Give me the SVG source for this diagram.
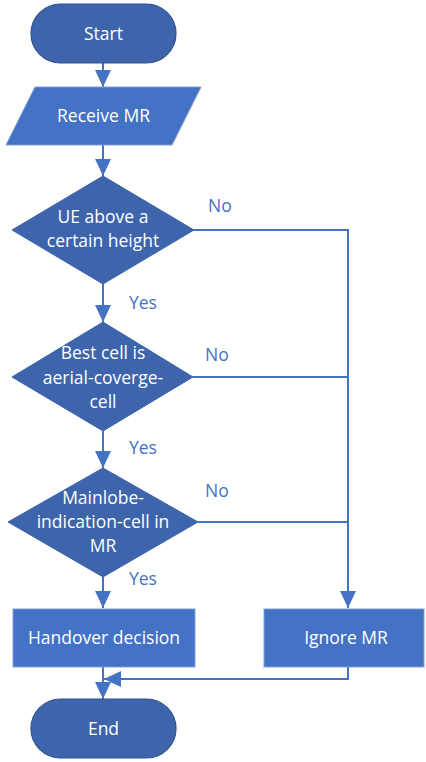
<svg xmlns="http://www.w3.org/2000/svg" width="426" height="762" viewBox="0 0 426 762">
<style>
.term{fill:#3E64AC;stroke:#2F528F;stroke-width:1.2}
.dec{fill:#3E64AC;stroke:#3E64AC;stroke-width:1}
.proc{fill:#4472C4;stroke:#7F9DD8;stroke-width:1}
.t{font-family:"Open Sans","Liberation Sans",sans-serif;font-size:17.5px;fill:#fff;text-anchor:middle}
.lbl{font-family:"Open Sans","Liberation Sans",sans-serif;font-size:17.5px;fill:#4472C4}
.c{fill:none;stroke:#4472C4;stroke-width:2}
</style>
<defs>
<marker id="ah" markerUnits="userSpaceOnUse" viewBox="0 0 17 16" refX="17" refY="8" markerWidth="17" markerHeight="16" orient="auto">
<path d="M0,0 L17,8 L0,16 Z" fill="#4472C4"/>
</marker>
</defs>
<g id="connectors">
<path class="c" d="M103,63 V87" marker-end="url(#ah)"/>
<path class="c" d="M103,145 V176" marker-end="url(#ah)"/>
<path class="c" d="M103,284 V322" marker-end="url(#ah)"/>
<path class="c" d="M103,431 V468" marker-end="url(#ah)"/>
<path class="c" d="M103,577 V608" marker-end="url(#ah)"/>
<path class="c" d="M193,230 H348 V608" marker-end="url(#ah)"/>
<path class="c" d="M193,377 H348"/>
<path class="c" d="M198,522 H348"/>
<path class="c" d="M103,667 V699" marker-end="url(#ah)"/>
<path class="c" d="M348,667 V679 H104" marker-end="url(#ah)"/>
<text class="lbl" x="208" y="212">No</text>
<text class="lbl" x="129" y="309">Yes</text>
<text class="lbl" x="205" y="361">No</text>
<text class="lbl" x="129" y="454">Yes</text>
<text class="lbl" x="205" y="497">No</text>
<text class="lbl" x="129" y="585">Yes</text>
</g>
<g id="start">
<rect class="term" x="31" y="4" width="145" height="59" rx="29.5"/>
<text class="t" x="103.5" y="39.5">Start</text>
</g>
<g id="receive">
<polygon class="proc" points="35,87 201,87 172,145 6,145"/>
<text class="t" x="103.5" y="122">Receive MR</text>
</g>
<g id="dec1">
<polygon class="dec" points="103,176 194,230 103,284 12,230"/>
<text class="t" x="103" y="223">UE above a</text>
<text class="t" x="103" y="247">certain height</text>
</g>
<g id="dec2">
<polygon class="dec" points="103,322 193,377 103,431 12,377"/>
<text class="t" x="103" y="359">Best cell is</text>
<text class="t" x="103" y="384">aerial-coverge-</text>
<text class="t" x="103" y="408">cell</text>
</g>
<g id="dec3">
<polygon class="dec" points="103,468 198,522 103,577 8,522"/>
<text class="t" x="103" y="504">Mainlobe-</text>
<text class="t" x="103" y="528">indication-cell in</text>
<text class="t" x="103" y="552">MR</text>
</g>
<g id="handover">
<rect class="proc" x="13" y="609" width="182" height="58"/>
<text class="t" x="104" y="644">Handover decision</text>
</g>
<g id="ignore">
<rect class="proc" x="264" y="609" width="160" height="58"/>
<text class="t" x="346" y="644">Ignore MR</text>
</g>
<g id="end">
<rect class="term" x="31" y="699" width="145" height="59" rx="29.5"/>
<text class="t" x="103.5" y="735">End</text>
</g>
</svg>
